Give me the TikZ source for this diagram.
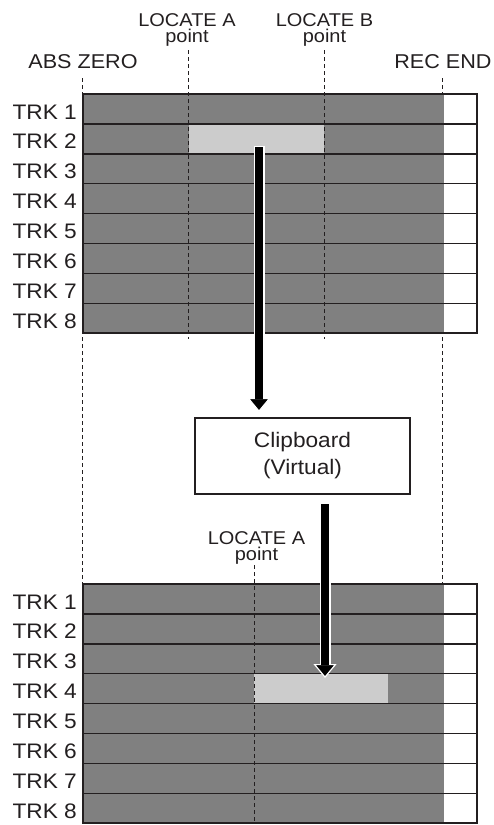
\documentclass[tikz,border=0pt]{standalone}
\usepackage{fontspec}
\setmainfont{Liberation Sans}[FakeStretch=1.08]
\usetikzlibrary{arrows.meta}
\definecolor{trkgray}{HTML}{808080}
\definecolor{selgray}{HTML}{CCCCCC}
\definecolor{ink}{HTML}{231F20}
\begin{document}
\begin{tikzpicture}[x=1pt,y=-1pt,
  lbl/.style={font=\fontsize{21}{25}\selectfont, inner sep=0pt, text=ink},
  toplbl/.style={font=\fontsize{20}{24}\selectfont, inner sep=0pt, text=ink, anchor=base},
  loc/.style={font=\fontsize{18.5}{16.5}\selectfont, align=center, inner sep=0pt, anchor=south, text=ink},
  guide/.style={draw=ink, line width=0.8pt, dash pattern=on 4pt off 3pt},
  rowline/.style={draw=ink, line width=1.4pt},
  frame/.style={draw=ink, line width=2pt},
  sel/.style={fill=selgray, inner sep=0pt, minimum height=29.9pt, anchor=north west},
  clipbox/.style={draw=ink, line width=1.5pt, minimum width=215pt, minimum height=76pt, inner sep=0pt, align=center, font=\fontsize{21}{27}\selectfont, text=ink},
  shaftwhite/.style={draw=white, line width=11pt},
  shaft/.style={draw=black, line width=8pt},
  bigarrow/.style={draw=black, line width=8pt, -{Triangle[width=23pt,length=14pt,fill=black,color=white,line width=1.2pt]}}
]
\useasboundingbox (0,0) rectangle (494,825);

% long guides behind the blocks
\coordinate (absT) at (82,78);
\coordinate (absB) at (82,584);
\coordinate (recT) at (442,78);
\coordinate (recB) at (442,584);
\draw[guide] (absT) -- (absB);
\draw[guide] (recT) -- (recB);

% ---------- top block ----------
\fill[trkgray] (83,94) rectangle (444,333.2);
\fill[white] (444,94) rectangle (477,333.2);
\node[sel, minimum width=135pt] (selA) at (189,123.9) {};
\foreach \i in {1,...,7} \draw[rowline] (83,{94+\i*29.9}) -- (477,{94+\i*29.9});
\draw[frame] (83,94) rectangle (477,333.2);
\foreach \i in {1,...,8} \node[lbl, anchor=base east] (tA\i) at (77,{94+(\i-1)*29.9+25}) {TRK \i};

% ---------- bottom block ----------
\fill[trkgray] (83,584) rectangle (444,823.2);
\fill[white] (444,584) rectangle (477,823.2);
\node[sel, minimum width=134pt] (selB) at (254,673.7) {};
\foreach \i in {1,...,7} \draw[rowline] (83,{584+\i*29.9}) -- (477,{584+\i*29.9});
\draw[frame] (83,584) rectangle (477,823.2);
\foreach \i in {1,...,8} \node[lbl, anchor=base east] (tB\i) at (77,{584+(\i-1)*29.9+25}) {TRK \i};

% ---------- labels ----------
\node[toplbl] (abs) at (83,68) {ABS ZERO};
\node[toplbl] (rec) at (443,68) {REC END};
\node[loc] (locA) at (187,47) {LOCATE A\\point};
\node[loc] (locB) at (324.5,47) {LOCATE B\\point};
\node[loc] (locA2) at (256.5,565) {LOCATE A\\point};

% locate guides over the blocks
\coordinate (gAT) at (188,50);  \coordinate (gAB) at (188,339);
\coordinate (gBT) at (324,50);  \coordinate (gBB) at (324,339);
\coordinate (gCT) at (254,565); \coordinate (gCB) at (254,823);
\draw[guide] (gAT) -- (gAB);
\draw[guide] (gBT) -- (gBB);
\draw[guide] (gCT) -- (gCB);

% ---------- clipboard ----------
\node[clipbox] (clip) at (302.5,456) {Clipboard\\(Virtual)};

% ---------- arrows ----------
\coordinate (a1s) at (259,147);
\coordinate (a1e) at (259,412);
\coordinate (a1w) at (259,146);
\coordinate (a1m) at (259,399);
\draw[shaftwhite] (a1w) -- (a1m);
\draw[bigarrow] (a1s) -- (a1e);
\draw[shaft] (a1s) -- (a1m);

\coordinate (a2s) at (325,504);
\coordinate (a2e) at (325,678);
\coordinate (a2w) at (325,503);
\coordinate (a2m) at (325,665);
\draw[shaftwhite] (a2w) -- (a2m);
\draw[bigarrow] (a2s) -- (a2e);
\draw[shaft] (a2s) -- (a2m);
\end{tikzpicture}
\end{document}
